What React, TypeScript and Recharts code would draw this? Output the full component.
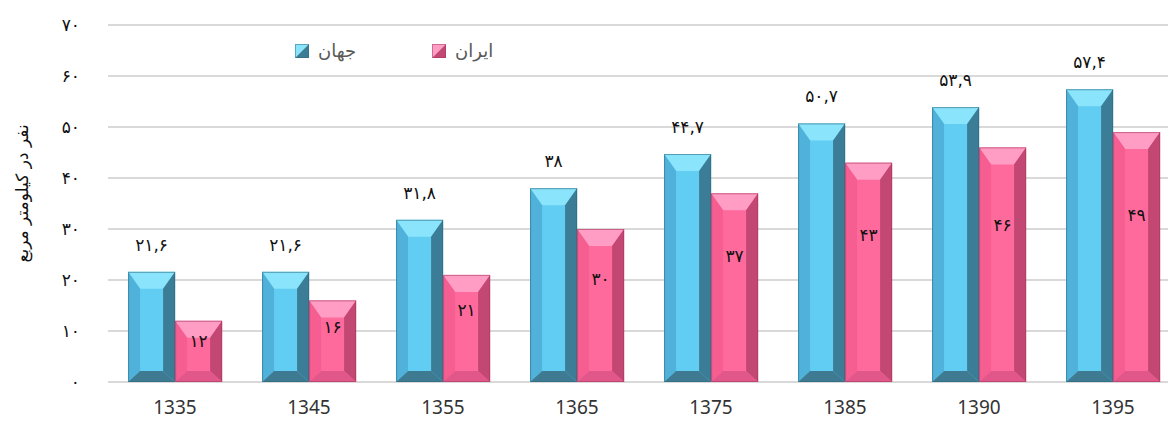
import React from 'react';
import { BarChart, Bar, XAxis, YAxis, CartesianGrid, LabelList } from 'recharts';

const years = ['1335', '1345', '1355', '1365', '1375', '1385', '1390', '1395'];
const world = [21.6, 21.6, 31.8, 38, 44.7, 50.7, 53.9, 57.4];
const iran = [12, 16, 21, 30, 37, 43, 46, 49];
const yTicks = [0, 10, 20, 30, 40, 50, 60, 70];

const data = years.map((year, i) => ({ year, world: world[i], iran: iran[i] }));

const FA = '۰۱۲۳۴۵۶۷۸۹';
const toFa = (v: number | string) =>
  String(v).replace(/\d/g, (d) => FA[+d]).replace('.', ',');

const faFont = '"DejaVu Sans", sans-serif';

const PAL = {
  world: { front: '#62cdf2', top: '#8ae4fc', left: '#50b2da', right: '#3b7d96', bottom: '#3e7b92', edge: '#2f6a80' },
  iran: { front: '#ff6a9c', top: '#ff9dc4', left: '#f65d90', right: '#c24772', bottom: '#e2578a', edge: '#a63a60' },
};

function bevelShape(pal: typeof PAL.world) {
  return (props: any) => {
    const { x, y, width: w, height: h } = props;
    if (!h || h <= 0) return null;
    const b = 12;
    const bt = Math.min(17, h / 2);
    const bb = Math.min(11, h / 2);
    const p = (pts: number[][]) => pts.map((q) => q.join(',')).join(' ');
    return (
      <g>
        <rect x={x} y={y} width={w} height={h} fill={pal.front} />
        <polygon points={p([[x, y], [x + w, y], [x + w - b, y + bt], [x + b, y + bt]])} fill={pal.top} />
        <polygon points={p([[x, y], [x + b, y + bt], [x + b, y + h - bb], [x, y + h]])} fill={pal.left} />
        <polygon points={p([[x + w, y], [x + w, y + h], [x + w - b, y + h - bb], [x + w - b, y + bt]])} fill={pal.right} />
        <polygon points={p([[x, y + h], [x + b, y + h - bb], [x + w - b, y + h - bb], [x + w, y + h]])} fill={pal.bottom} />
        <rect x={x + 0.5} y={y + 0.5} width={w - 1} height={h - 1} fill="none" stroke={pal.edge} strokeWidth={1} strokeOpacity={0.6} />
      </g>
    );
  };
}

const worldLabel = (props: any) => {
  const { x, y, width, value } = props;
  return (
    <text x={x + width / 2} y={y - 27} textAnchor="middle" dominantBaseline="central" fontSize={17} fontFamily={faFont} fill="#111">
      {toFa(value)}
    </text>
  );
};

const iranLabel = (props: any) => {
  const { x, y, width, height, value } = props;
  return (
    <text x={x + width / 2} y={y + height * 0.33} textAnchor="middle" dominantBaseline="central" fontSize={17} fontFamily={faFont} fill="#111">
      {toFa(value)}
    </text>
  );
};

function Swatch({ pal }: { pal: typeof PAL.world }) {
  return (
    <svg width={14} height={14} style={{ display: 'block' }}>
      <polygon points="0,0 14,0 0,14" fill={pal.top} />
      <polygon points="14,0 14,14 0,14" fill={pal.right} />
      <rect x={0.5} y={0.5} width={13} height={13} fill="none" stroke={pal.edge} strokeOpacity={0.5} />
    </svg>
  );
}

const yLabel = (props: any) => {
  const { viewBox } = props;
  const cy = viewBox.y + viewBox.height / 2 - 10;
  return (
    <text x={22} y={cy} transform={`rotate(-90 22 ${cy})`} textAnchor="middle" dominantBaseline="central" fontSize={17} fontFamily={faFont} fill="#111">
      نفر در کیلومتر مربع
    </text>
  );
};

export default function App() {
  return (
    <div style={{ position: 'absolute', left: 0, top: 0, width: 1168, height: 421, overflow: 'hidden', background: '#fff' }}>
      <BarChart
        width={1190}
        height={421}
        data={data}
        margin={{ top: 25, right: 10, bottom: 0, left: 0 }}
        barGap={0}
        barCategoryGap="15%"
      >
        <CartesianGrid vertical={false} stroke="#d9d9d9" strokeWidth={2} />
        <XAxis
          dataKey="year"
          axisLine={false}
          tickLine={false}
          tickSize={0}
          tickMargin={19}
          height={39}
          tick={{ fontSize: 19, fill: '#333', fontFamily: '"Noto Sans", sans-serif' }}
        />
        <YAxis
          width={108}
          domain={[0, 70]}
          ticks={yTicks}
          axisLine={false}
          tickLine={false}
          tickSize={0}
          tickMargin={28}
          tickFormatter={(v: number) => toFa(v)}
          tick={{ fontSize: 17, fill: '#111', fontFamily: faFont }}
          label={yLabel}
        />
        <Bar dataKey="world" name="جهان" fill={PAL.world.front} shape={bevelShape(PAL.world)} isAnimationActive={false}>
          <LabelList dataKey="world" content={worldLabel} />
        </Bar>
        <Bar dataKey="iran" name="ایران" fill={PAL.iran.front} shape={bevelShape(PAL.iran)} isAnimationActive={false}>
          <LabelList dataKey="iran" content={iranLabel} />
        </Bar>
      </BarChart>
      <div style={{ position: 'absolute', top: 40, left: 295, display: 'flex', alignItems: 'center', fontFamily: faFont, fontSize: 18, color: '#595959' }}>
        <Swatch pal={PAL.world} />
        <span style={{ marginLeft: 9, width: 114 }}>جهان</span>
        <Swatch pal={PAL.iran} />
        <span style={{ marginLeft: 9 }}>ایران</span>
      </div>
    </div>
  );
}
